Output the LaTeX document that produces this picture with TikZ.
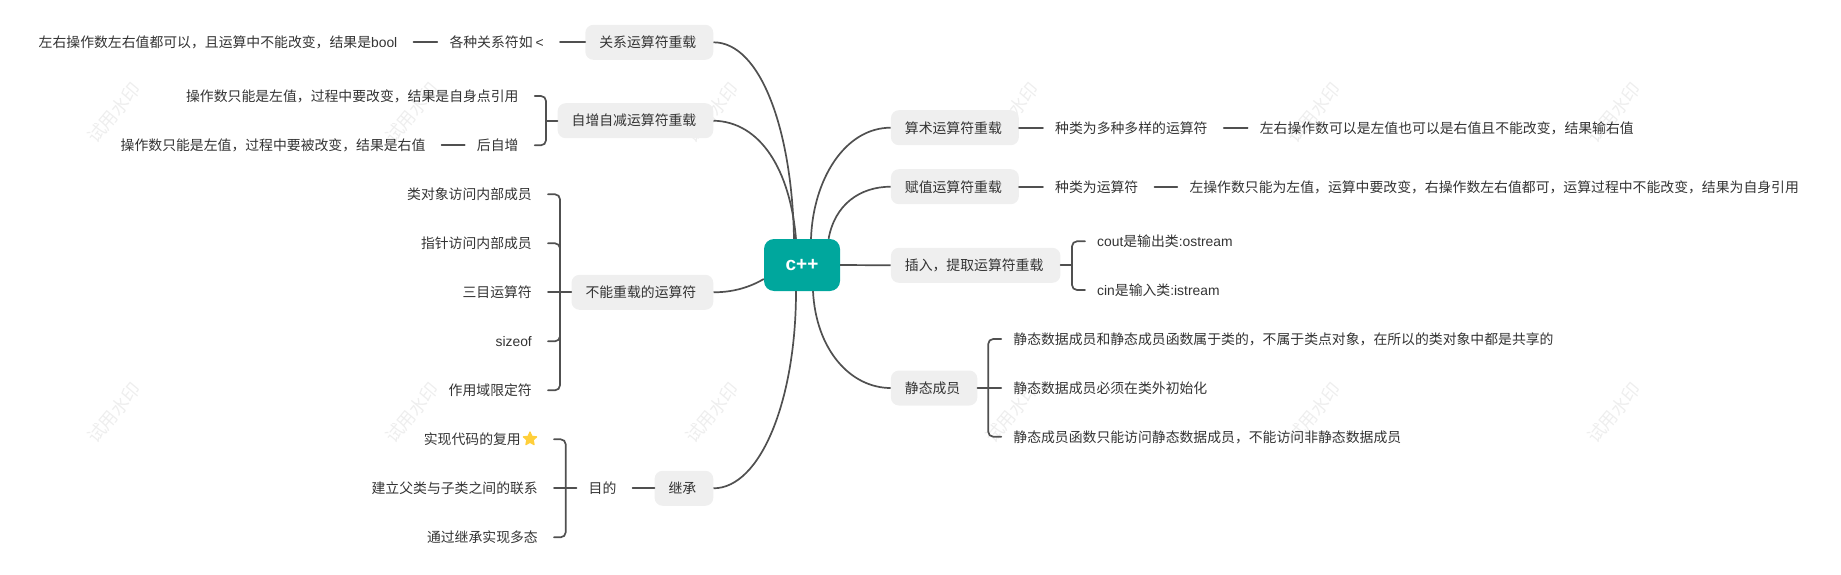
\documentclass[tikz,border=0pt]{standalone}
\usepackage{fontspec}
\usetikzlibrary{shapes.geometric}
\setmainfont{Noto Sans CJK SC}
\newfontfamily\lat{Liberation Sans}
\definecolor{inkc}{HTML}{333333}
\definecolor{linec}{HTML}{505050}
\definecolor{pillc}{HTML}{EFEFEF}
\definecolor{tealc}{HTML}{00A79D}
\definecolor{markc}{HTML}{EEEEEE}
\definecolor{starc}{HTML}{FFCF3A}
\tikzset{
  txt/.style={font=\fontsize{13.85}{16}\selectfont,text=inkc,inner xsep=12pt,inner ysep=0pt,text height=12pt,text depth=1.4pt},
  branchbox/.style={txt,fill=pillc,rounded corners=8pt,inner xsep=14pt,minimum height=35pt,execute at end node={\kern3pt}},
  centrebox/.style={fill=tealc,rounded corners=10pt,minimum width=76pt,minimum height=52pt,inner sep=0pt,text=white,font=\lat\fontsize{19}{20}\selectfont\bfseries},
  conn/.style={draw=linec,line width=1.7pt,line cap=round},
  bowline/.style={draw=linec,line width=1.7pt},
  brk/.style={conn,rounded corners=5pt},
  gapstart/.style={shorten <=4pt},
  wmark/.style={font=\fontsize{18}{20}\selectfont,text=markc,rotate=50,inner sep=0pt},
  starn/.style={star,star points=5,star point ratio=2.1,fill=starc,draw=starc,line join=round,line width=1.2pt,minimum size=14pt,inner sep=0pt}
}
\begin{document}
\begin{tikzpicture}[x=1pt,y=-1pt]
\useasboundingbox (0,0) rectangle (1841,575);
% watermarks
\foreach \i/\px in {1/114,2/412,3/712,4/1012,5/1314,6/1614}{
  \node[wmark] (wa\i) at (\px,113) {试用水印};
  \node[wmark] (wb\i) at (\px,413) {试用水印};
}
% centre
\node[centrebox] (c) at (802,265) {c++};
% left branches
\node[branchbox,anchor=east] (rel) at (713.5,42.3) {关系运算符重载};
\node[branchbox,anchor=east] (inc) at (713.5,120.7) {自增自减运算符重载};
\node[branchbox,anchor=east] (non) at (713.5,292.3) {不能重载的运算符};
\node[branchbox,anchor=east] (inh) at (713.5,488.3) {继承};
% right branches
\node[branchbox,anchor=west] (ari) at (890.7,127.7) {算术运算符重载};
\node[branchbox,anchor=west] (asg) at (890.7,186.7) {赋值运算符重载};
\node[branchbox,anchor=west] (ins) at (890.7,265.3) {插入，提取运算符重载};
\node[branchbox,anchor=west] (sta) at (890.7,388) {静态成员};
% relation row
\node[txt,anchor=east] (rel2) at (556,42.3) {各种关系符如 {\lat <}};
\node[txt,anchor=east] (rel3) at (409.5,42.3) {左右操作数左右值都可以，且运算中不能改变，结果是{\lat bool}};
% inc row
\node[txt,anchor=east] (inc1) at (530.7,96) {操作数只能是左值，过程中要改变，结果是自身点引用};
\node[txt,anchor=east] (inc2) at (530.7,145.3) {后自增};
\node[txt,anchor=east] (inc3) at (437.6,145.3) {操作数只能是左值，过程中要被改变，结果是右值};
% non row
\node[txt,anchor=east] (non1) at (544,194.3) {类对象访问内部成员};
\node[txt,anchor=east] (non2) at (544,243.3) {指针访问内部成员};
\node[txt,anchor=east] (non3) at (544,292.3) {三目运算符};
\node[txt,anchor=east] (non4) at (544,341.3) {{\lat sizeof}};
\node[txt,anchor=east] (non5) at (544,390.3) {作用域限定符};
% inherit row
\node[txt,anchor=east] (inh0) at (628.6,488.3) {目的};
\node[txt,anchor=east] (inh1) at (550,439.3) {实现代码的复用\kern17pt};
\node[starn] (star) at (530,439) {};
\node[txt,anchor=east] (inh2) at (550,488.3) {建立父类与子类之间的联系};
\node[txt,anchor=east] (inh3) at (550,537.3) {通过继承实现多态};
% right rows
\node[txt,anchor=west] (ari1) at (1043,127.7) {种类为多种多样的运算符};
\node[txt,anchor=west] (ari2) at (1247.6,127.7) {左右操作数可以是左值也可以是右值且不能改变，结果输右值};
\node[txt,anchor=west] (asg1) at (1043,186.7) {种类为运算符};
\node[txt,anchor=west] (asg2) at (1177.3,186.7) {左操作数只能为左值，运算中要改变，右操作数左右值都可，运算过程中不能改变，结果为自身引用};
\node[txt,anchor=west] (ins1) at (1085,241.3) {{\lat cout}是输出类{\lat :ostream}};
\node[txt,anchor=west] (ins2) at (1085,290) {{\lat cin}是输入类{\lat :istream}};
\node[txt,anchor=west] (sta1) at (1001.2,339) {静态数据成员和静态成员函数属于类的，不属于类点对象，在所以的类对象中都是共享的};
\node[txt,anchor=west] (sta2) at (1001.2,388) {静态数据成员必须在类外初始化};
\node[txt,anchor=west] (sta3) at (1001.2,436.7) {静态成员函数只能访问静态数据成员，不能访问非静态数据成员};
% junctions
\coordinate (jinc) at (546,120.7);
\coordinate (jnon) at (560,292.3);
\coordinate (jinh) at (565.7,488.3);
\coordinate (jins) at (1072,265.3);
\coordinate (jsta) at (988.2,388);
% main curves
\draw[bowline] (rel.east) .. controls +(47,0) and +(-2,-109) .. ([xshift=-8pt]c.north);
\draw[bowline] (inc.east) .. controls +(47,1) and +(-6,-69) .. ([xshift=-6pt]c.north);
\draw[bowline] (non.east) .. controls +(22,0) and +(-12,7) .. ([yshift=-14pt]c.west);
\draw[bowline] (inh.east) .. controls +(47,0) and +(0,109) .. ([xshift=-6pt]c.south);
\draw[bowline] (ari.west) .. controls +(-46,0) and +(2,-59) .. ([xshift=9pt]c.north);
\draw[bowline] (asg.west) .. controls +(-31,0) and +(6,-34) .. ([xshift=26.6pt]c.north);
\draw[bowline] (ins.west) -- (c.east);
\draw[bowline] (sta.west) .. controls +(-40,0) and +(3,59) .. ([xshift=11pt]c.south);
% chains
\draw[conn,gapstart] (rel2.east) -- (rel.west);
\draw[conn,gapstart] (rel3.east) -- (rel2.west);
\draw[conn,gapstart] (inc3.east) -- (inc2.west);
\draw[conn,gapstart] (inh0.east) -- (inh.west);
\draw[conn] (ari.east) -- (ari1.west);
\draw[conn,gapstart] (ari1.east) -- (ari2.west);
\draw[conn] (asg.east) -- (asg1.west);
\draw[conn,gapstart] (asg1.east) -- (asg2.west);
% brackets
\draw[conn] (inc.west) -- (jinc);
\draw[brk,gapstart] (inc1.east) -| (jinc);
\draw[brk,gapstart] (inc2.east) -| (jinc);
\draw[conn] (non.west) -- (jnon);
\draw[brk,gapstart] (non1.east) -| (jnon);
\draw[brk,gapstart] (non2.east) -| (jnon);
\draw[conn,gapstart] (non3.east) -- (jnon);
\draw[brk,gapstart] (non4.east) -| (jnon);
\draw[brk,gapstart] (non5.east) -| (jnon);
\draw[conn] (inh0.west) -- (jinh);
\draw[brk,gapstart] (inh1.east) -| (jinh);
\draw[conn,gapstart] (inh2.east) -- (jinh);
\draw[brk,gapstart] (inh3.east) -| (jinh);
\draw[conn] (ins.east) -- (jins);
\draw[brk] (ins1.west) -| (jins);
\draw[brk] (ins2.west) -| (jins);
\draw[conn] (sta.east) -- (jsta);
\draw[brk] (sta1.west) -| (jsta);
\draw[conn] (sta2.west) -- (jsta);
\draw[brk] (sta3.west) -| (jsta);
\end{tikzpicture}
\end{document}
